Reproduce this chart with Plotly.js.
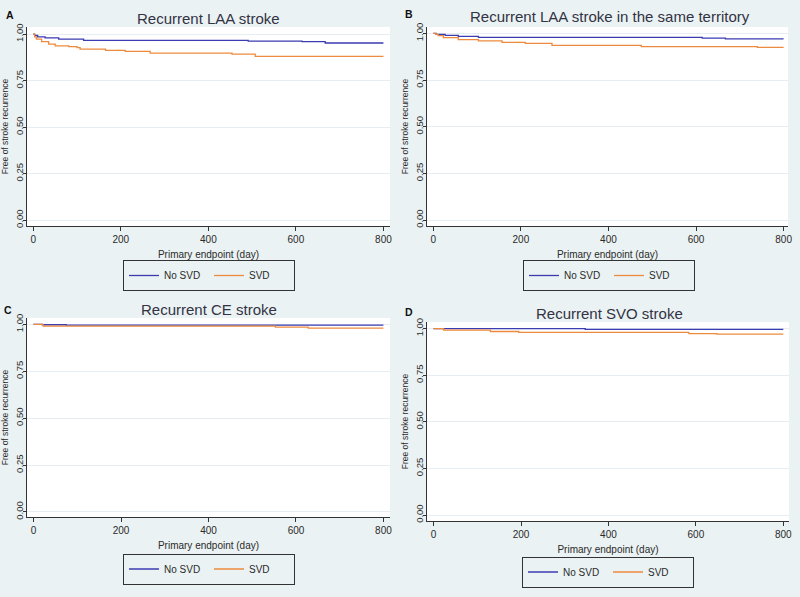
<!DOCTYPE html>
<html>
<head>
<meta charset="utf-8">
<script src="https://cdn.plot.ly/plotly-3.0.1.min.js"></script>
<style>html,body{margin:0;padding:0;background:#EAF2F3;}#chart{width:800px;height:597px;}</style>
</head>
<body>
<div id="chart"></div>
<script>
// ---- Data (Kaplan-Meier step points) ----
const seriesNames = ["No SVD", "SVD"];
const panelTitles = ["Recurrent LAA stroke", "Recurrent LAA stroke in the same territory", "Recurrent CE stroke", "Recurrent SVO stroke"];
const panelLabels = ["A", "B", "C", "D"];
const xTicks = [0, 200, 400, 600, 800];
const yTicks = [0, 0.25, 0.5, 0.75, 1];

// Panel A: Recurrent LAA stroke
const laaDaysNo = [0, 3, 10, 27, 58, 115, 491, 614, 667, 800];
const laaSurvNo = [1.000, 0.993, 0.985, 0.980, 0.973, 0.966, 0.962, 0.959, 0.952, 0.952];
const laaDaysSvd = [0, 3, 7, 19, 35, 50, 81, 100, 107, 165, 210, 267, 454, 507, 800];
const laaSurvSvd = [1.000, 0.985, 0.973, 0.959, 0.946, 0.937, 0.932, 0.927, 0.919, 0.912, 0.907, 0.898, 0.892, 0.880, 0.880];

// Panel B: Recurrent LAA stroke in the same territory
const terDaysNo = [0, 6, 27, 57, 103, 614, 667, 800];
const terSurvNo = [1.000, 0.994, 0.989, 0.984, 0.978, 0.974, 0.970, 0.970];
const terDaysSvd = [0, 6, 11, 23, 57, 103, 157, 210, 271, 475, 740, 800];
const terSurvSvd = [1.000, 0.994, 0.988, 0.977, 0.966, 0.960, 0.952, 0.946, 0.936, 0.929, 0.925, 0.925];

// Panel C: Recurrent CE stroke
const ceDaysNo = [0, 20, 75, 800];
const ceSurvNo = [1.000, 0.998, 0.996, 0.996];
const ceDaysSvd = [0, 22, 553, 628, 800];
const ceSurvSvd = [1.000, 0.991, 0.985, 0.980, 0.980];

// Panel D: Recurrent SVO stroke
const svoDaysNo = [0, 347, 800];
const svoSurvNo = [1.000, 0.995, 0.995];
const svoDaysSvd = [0, 23, 130, 195, 584, 648, 800];
const svoSurvSvd = [1.000, 0.991, 0.984, 0.979, 0.973, 0.970, 0.970];

// ---- Styles ----
const BG = "#EAF2F3";
const BLUE = "#3B3BB2";
const ORANGE = "#EE8A3D";
const FONT = "Liberation Sans, Arial, sans-serif";
const TXT = "#2a2a2a";

const panels = [
  {xs: [laaDaysNo, laaDaysSvd], ys: [laaSurvNo, laaSurvSvd]},
  {xs: [terDaysNo, terDaysSvd], ys: [terSurvNo, terSurvSvd]},
  {xs: [ceDaysNo, ceDaysSvd], ys: [ceSurvNo, ceSurvSvd]},
  {xs: [svoDaysNo, svoDaysSvd], ys: [svoSurvNo, svoSurvSvd]}
];
const colors = [BLUE, ORANGE];

// geometry (pixels in the 800x597 page)
const W = 800, H = 597;
const geo = [
  {x0: 27, x1: 390, y0: 27, y1: 226, xr: [-14.4, 815], yr: [-0.032, 1.038], title: [208, 18], label: [10, 15], leg: [209, 275.5]},
  {x0: 427, x1: 788, y0: 27, y1: 226, xr: [-14.4, 810], yr: [-0.032, 1.034], title: [610, 17], label: [409, 14], leg: [609, 275.5]},
  {x0: 27, x1: 390, y0: 318, y1: 517, xr: [-15, 815], yr: [-0.027, 1.034], title: [209, 309], label: [8, 310], leg: [209, 569]},
  {x0: 427, x1: 789, y0: 322, y1: 521, xr: [-15, 813], yr: [-0.032, 1.035], title: [609, 313], label: [409, 312], leg: [608, 572]}
];

const traces = [];
const layout = {
  width: W, height: H,
  margin: {l: 0, r: 0, t: 0, b: 0},
  paper_bgcolor: BG,
  plot_bgcolor: "#FFFFFF",
  font: {family: FONT, color: TXT, size: 10},
  showlegend: true,
  annotations: []
};

panels.forEach((p, i) => {
  const n = i + 1;
  const xa = n === 1 ? "x" : "x" + n;
  const ya = n === 1 ? "y" : "y" + n;
  const legId = n === 1 ? "legend" : "legend" + n;
  p.xs.forEach((xv, k) => {
    traces.push({
      type: "scatter", mode: "lines",
      x: xv, y: p.ys[k],
      name: seriesNames[k],
      line: {color: colors[k], width: 1.3, shape: "hv"},
      xaxis: xa, yaxis: ya,
      legend: legId,
      hoverinfo: "x+y+name"
    });
  });
  const g = geo[i];
  layout["xaxis" + (n === 1 ? "" : n)] = {
    domain: [g.x0 / W, g.x1 / W],
    anchor: ya,
    range: g.xr,
    tickvals: xTicks,
    ticks: "outside", ticklen: 4, tickcolor: "#333",
    showline: true, linecolor: "#333", linewidth: 1,
    showgrid: false, zeroline: false,
    tickfont: {size: 10, color: TXT},
    title: {text: "Primary endpoint (day)", font: {size: 10, color: TXT}, standoff: 6},
    automargin: false
  };
  layout["yaxis" + (n === 1 ? "" : n)] = {
    domain: [1 - g.y1 / H, 1 - g.y0 / H],
    anchor: xa,
    range: g.yr,
    tickvals: yTicks,
    tickformat: ".2f",
    tickangle: -90,
    ticks: "outside", ticklen: 3, tickcolor: "#333",
    ticklabelstandoff: -4,
    showline: true, linecolor: "#333", linewidth: 1,
    showgrid: true, gridcolor: "#E6EEF1", gridwidth: 1,
    zeroline: false,
    tickfont: {size: 9.5, color: TXT},
    title: {text: "Free of stroke recurrence", font: {size: 8.5, color: TXT}, standoff: 4},
    automargin: false
  };
  layout[legId] = {
    orientation: "h",
    x: g.leg[0] / W, y: 1 - g.leg[1] / H,
    xanchor: "center", yanchor: "middle",
    bgcolor: BG,
    bordercolor: "#333", borderwidth: 1,
    font: {size: 10, color: TXT},
    itemwidth: 30,
    entrywidth: 40
  };
  layout.annotations.push({
    text: panelTitles[i], xref: "paper", yref: "paper",
    x: g.title[0] / W, y: 1 - g.title[1] / H,
    xanchor: "center", yanchor: "middle", showarrow: false,
    font: {size: 15, color: "#333344", family: FONT}
  });
  layout.annotations.push({
    text: "<b>" + panelLabels[i] + "</b>", xref: "paper", yref: "paper",
    x: g.label[0] / W, y: 1 - g.label[1] / H,
    xanchor: "center", yanchor: "middle", showarrow: false,
    font: {size: 10.5, color: "#111", family: FONT}
  });
});

Plotly.newPlot("chart", traces, layout, {displayModeBar: false, staticPlot: false});
</script>
</body>
</html>
